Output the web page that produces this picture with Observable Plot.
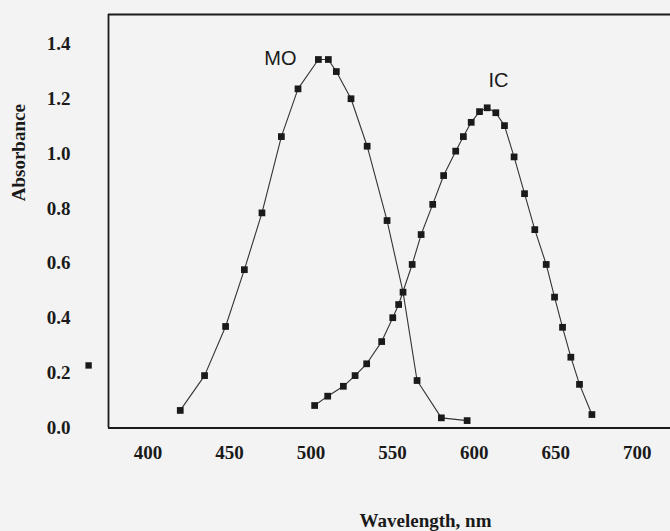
<!DOCTYPE html>
<html>
<head>
<meta charset="utf-8">
<script src="https://cdn.jsdelivr.net/npm/d3@7"></script>
<script src="https://cdn.jsdelivr.net/npm/@observablehq/plot@0.6"></script>
<style>
  html, body { margin: 0; padding: 0; background: #f3f3f3; overflow: hidden; }
</style>
</head>
<body>
<div id="chart"></div>
<script>
// Methyl orange (MO) spectrum
const moWavelength = [419.8, 434.7, 447.6, 459.1, 469.9, 481.8, 492.0, 504.5, 510.6, 515.5, 524.5, 534.4, 546.6, 556.4, 565.0, 579.9, 595.7];
const moAbsorbance = [0.064, 0.191, 0.370, 0.577, 0.784, 1.062, 1.236, 1.343, 1.343, 1.299, 1.200, 1.027, 0.756, 0.495, 0.173, 0.037, 0.027];

// Indigo carmine (IC) spectrum
const icWavelength = [502.2, 510.2, 519.8, 527.0, 534.1, 543.3, 550.1, 553.7, 562.0, 567.5, 574.6, 581.3, 588.7, 593.4, 598.2, 603.3, 608.0, 613.3, 618.6, 624.5, 630.9, 637.2, 644.2, 649.3, 654.2, 659.3, 664.6, 672.2];
const icAbsorbance = [0.082, 0.116, 0.152, 0.191, 0.234, 0.315, 0.402, 0.450, 0.596, 0.705, 0.815, 0.920, 1.009, 1.062, 1.114, 1.153, 1.167, 1.149, 1.102, 0.988, 0.854, 0.723, 0.596, 0.477, 0.367, 0.258, 0.159, 0.049];

// stray marker outside the frame (scan artefact)
const strayWavelength = [363.6];
const strayAbsorbance = [0.228];

// series labels
const seriesNames = ["MO", "IC"];
const labelWavelength = [481.2, 614.9];
const labelAbsorbance = [1.347, 1.266];

// axes
const xTicks = [400, 450, 500, 550, 600, 650, 700];
const yTicks = [0.0, 0.2, 0.4, 0.6, 0.8, 1.0, 1.2, 1.4];
const xDomain = [375.8, 720.4];
const yDomain = [0, 1.507];
const xLabel = "Wavelength, nm";
const yLabel = "Absorbance";

const mo = moWavelength.map((w, i) => ({w, a: moAbsorbance[i]}));
const ic = icWavelength.map((w, i) => ({w, a: icAbsorbance[i]}));
const stray = strayWavelength.map((w, i) => ({w, a: strayAbsorbance[i]}));
const labels = seriesNames.map((name, i) => ({name, w: labelWavelength[i], a: labelAbsorbance[i]}));

const ink = "#1a1a1a";

const chart = Plot.plot({
  width: 670,
  height: 531,
  marginTop: 14,
  marginLeft: 108,
  marginRight: 0,
  marginBottom: 103.5,
  style: {background: "#f3f3f3", fontFamily: "'Liberation Serif', 'Times New Roman', serif", fontSize: "19px", fontWeight: "bold", color: ink},
  x: {domain: xDomain},
  y: {domain: yDomain},
  marks: [
    Plot.axisX({ticks: xTicks, tickSize: 0, tickPadding: 17, label: null, tickFormat: d3.format("d")}),
    Plot.axisY({ticks: yTicks, tickSize: 0, tickPadding: 38, label: null, tickFormat: d3.format(".1f")}),
    // frame: left, top, bottom (right side lies outside the crop)
    Plot.ruleX([xDomain[0]], {stroke: ink, strokeWidth: 1.8}),
    Plot.ruleY([yDomain[1]], {stroke: ink, strokeWidth: 1.8}),
    Plot.ruleY([yDomain[0]], {stroke: ink, strokeWidth: 1.8}),
    Plot.line(mo, {x: "w", y: "a", stroke: "#333", strokeWidth: 1.1}),
    Plot.line(ic, {x: "w", y: "a", stroke: "#333", strokeWidth: 1.1}),
    Plot.dot(mo, {x: "w", y: "a", symbol: "square", r: 3.8, fill: ink, stroke: "none"}),
    Plot.dot(ic, {x: "w", y: "a", symbol: "square", r: 3.8, fill: ink, stroke: "none"}),
    Plot.dot(stray, {x: "w", y: "a", symbol: "square", r: 3.6, fill: ink, stroke: "none"}),
    Plot.text(labels, {x: "w", y: "a", text: "name", fontFamily: "'Liberation Sans', Arial, sans-serif", fontWeight: "normal", fontSize: 20, fill: ink, textAnchor: "middle", lineAnchor: "middle"}),
    Plot.text([xLabel], {frameAnchor: "bottom", dx: 36, dy: 92.5, fontSize: 19, fontWeight: "bold", fill: ink, lineAnchor: "middle"}),
    Plot.text([yLabel], {frameAnchor: "left", rotate: -90, dx: -90, dy: -20, fontSize: 19, fontWeight: "bold", fill: ink, lineAnchor: "middle"})
  ]
});
document.getElementById("chart").appendChild(chart);
</script>
</body>
</html>
